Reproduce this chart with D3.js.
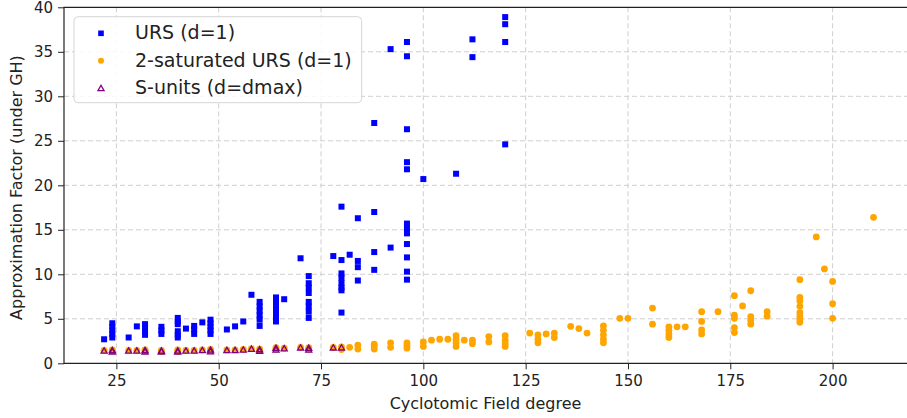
<!DOCTYPE html>
<html>
    <head>
        <script src="https://d3js.org/d3.v7.min.js"></script>
    </head>
    <body style="margin:0; background:#fff;">
        <div id="root"></div>
    </body>
    <style>
svg text {
    font-family: "DejaVu Sans", sans-serif;
    fill: #222;
}
    </style>
    <script>
        // URS (d=1)
        let urs_deg = [22, 24, 24, 24, 24, 24, 28, 30, 32, 32, 32, 32, 36, 36, 36,
            40, 40, 40, 40, 40, 40, 42, 44, 44, 44, 46, 48, 48, 48, 48, 48, 52, 54, 56, 58,
            60, 60, 60, 60, 60, 60, 64, 64, 64, 64, 64, 64, 66, 70,
            72, 72, 72, 72, 72, 72, 72, 72, 78, 80, 80, 80, 80, 80, 80, 80, 80, 82,
            84, 84, 84, 84, 88, 88, 88, 88, 92, 92,
            96, 96, 96, 96, 96, 96, 96, 96, 96, 96, 96, 96, 100, 108, 112, 112, 120, 120, 120, 120];
        let urs_val = [2.7, 4.5, 4.1, 3.7, 3.3, 2.9, 2.9, 4.15, 4.4, 4.0, 3.6, 3.2, 4.1, 3.7, 3.3,
            5.1, 4.7, 4.4, 3.6, 3.2, 2.9, 3.9, 4.2, 3.8, 3.3, 4.6, 4.9, 4.5, 4.1, 3.7, 3.3, 3.8, 4.15, 4.7, 7.7,
            6.9, 6.4, 5.9, 5.4, 4.9, 4.2, 7.4, 6.8, 6.2, 5.6, 5.0, 4.7, 7.2, 11.8,
            9.8, 9.0, 8.5, 7.9, 6.9, 6.4, 5.8, 5.1, 12.05, 17.6, 11.6, 10.1, 9.6, 9.0, 8.5, 8.2, 5.7, 12.2,
            16.3, 11.5, 10.8, 9.3, 27.0, 17.0, 12.5, 10.5, 35.3, 13.0,
            36.1, 34.5, 26.3, 22.6, 21.8, 15.7, 15.2, 14.6, 13.4, 11.9, 10.3, 9.4, 20.7, 21.3, 36.4, 34.4, 38.9, 38.1, 36.1, 24.6];

        // 2-saturated URS (d=1)
        let sat_deg = [22, 24, 24, 28, 30, 32, 32, 36, 36, 40, 40, 42, 44, 46, 48, 48, 52, 54, 56, 58,
            60, 60, 64, 64, 66, 70, 72, 72, 78, 80, 80, 82, 84, 84, 88, 88, 88, 92, 92, 96, 96, 96,
            100, 100, 102, 104, 106, 108, 108, 108, 108, 110, 112, 112, 116, 116, 120, 120, 120, 120,
            126, 128, 128, 128, 130, 132, 132, 136, 138, 140, 144, 144, 144, 144, 144, 148, 150,
            156, 156, 160, 160, 160, 160, 162, 164, 168, 168, 168, 168, 172,
            176, 176, 176, 176, 176, 178, 180, 180, 180, 180, 184, 184,
            192, 192, 192, 192, 192, 192, 192, 192, 196, 198, 200, 200, 200, 210];
        let sat_val = [1.45, 1.5, 1.4, 1.45, 1.45, 1.5, 1.4, 1.45, 1.35, 1.5, 1.35, 1.45, 1.45, 1.5, 1.55, 1.4, 1.5, 1.5, 1.55, 1.65,
            1.6, 1.45, 1.75, 1.6, 1.7, 1.8, 1.75, 1.6, 1.8, 1.85, 1.55, 1.8, 2.05, 1.6, 2.15, 1.85, 1.6, 2.3, 1.8, 2.3, 2.0, 1.7,
            2.4, 1.9, 2.6, 2.7, 2.7, 3.1, 2.7, 2.3, 1.9, 2.6, 2.6, 2.2, 3.0, 2.4, 3.1, 2.6, 2.2, 1.9,
            3.4, 3.2, 2.7, 2.3, 3.3, 3.4, 2.9, 4.15, 3.9, 3.4, 4.2, 3.7, 3.2, 2.7, 2.3, 5.05, 5.05,
            6.2, 4.4, 4.1, 3.7, 3.3, 2.9, 4.1, 4.1, 5.8, 4.7, 3.75, 3.3, 5.8,
            7.6, 5.4, 5.05, 4.0, 3.45, 6.45, 8.15, 5.25, 4.8, 4.4, 5.8, 5.3,
            9.4, 7.4, 7.0, 6.4, 5.7, 5.3, 4.9, 4.6, 14.2, 10.6, 9.2, 6.7, 5.05, 16.4];

        // S-units (d=dmax)
        let sunit_deg = [22, 24, 24, 28, 30, 32, 32, 36, 36, 40, 40, 42, 44, 46, 48, 48, 52, 54, 56, 58,
            60, 60, 64, 64, 66, 70, 72, 72, 78, 80];
        let sunit_val = [1.4, 1.45, 1.3, 1.4, 1.4, 1.45, 1.3, 1.4, 1.3, 1.4, 1.28, 1.4, 1.4, 1.45, 1.5, 1.32, 1.45, 1.45, 1.5, 1.6,
            1.55, 1.38, 1.7, 1.52, 1.65, 1.75, 1.7, 1.52, 1.75, 1.75];

        let x_ticks = [25, 50, 75, 100, 125, 150, 175, 200];
        let y_ticks = [0, 5, 10, 15, 20, 25, 30, 35, 40];

        let legend_items = [
            { label: 'URS (d=1)', kind: 'square' },
            { label: '2-saturated URS (d=1)', kind: 'circle' },
            { label: 'S-units (d=dmax)', kind: 'triangle' }
        ];

        let width = 907;
        let height = 418;
        let plot_left = 64, plot_right = 912, plot_top = 7.3, plot_bottom = 363.3;

        let blue = '#0000ff';
        let orange = '#ffa500';
        let purple = '#800080';

        let scale_x = d3.scaleLinear().domain([12.2, 219.4]).range([plot_left, plot_right]);
        let scale_y = d3.scaleLinear().domain([0, 40]).range([plot_bottom, plot_top]);

        let svg = d3.select('#root').append('svg')
            .attr('width', width)
            .attr('height', height)
            .style('display', 'block');

        // grid
        let grid = svg.append('g')
            .attr('stroke', '#cfcfcf')
            .attr('stroke-width', 1)
            .attr('stroke-dasharray', '5,3');
        grid.selectAll('line.gx')
            .data(x_ticks)
            .join('line')
            .attr('class', 'gx')
            .attr('x1', d => scale_x(d)).attr('x2', d => scale_x(d))
            .attr('y1', plot_top).attr('y2', plot_bottom);
        grid.selectAll('line.gy')
            .data(y_ticks.slice(1, -1))
            .join('line')
            .attr('class', 'gy')
            .attr('x1', plot_left).attr('x2', plot_right)
            .attr('y1', d => scale_y(d)).attr('y2', d => scale_y(d));

        // axes
        let axis_x = svg.append('g')
            .attr('transform', `translate(0, ${plot_bottom})`)
            .call(d3.axisBottom(scale_x).tickValues(x_ticks).tickSize(6).tickPadding(6.5).tickSizeOuter(0));
        let axis_y = svg.append('g')
            .attr('transform', `translate(${plot_left}, 0)`)
            .call(d3.axisLeft(scale_y).tickValues(y_ticks).tickSize(6).tickPadding(5).tickSizeOuter(0));
        [axis_x, axis_y].forEach(a => {
            a.select('.domain').remove();
            a.selectAll('line').attr('stroke', '#222');
            a.selectAll('text').attr('font-size', 15).attr('fill', '#222')
                .attr('font-family', '"DejaVu Sans", sans-serif');
        });

        // spines
        svg.append('path')
            .attr('d', `M${plot_right},${plot_top}H${plot_left}V${plot_bottom}H${plot_right}`)
            .attr('fill', 'none')
            .attr('stroke', '#222')
            .attr('stroke-width', 1.2);

        let marks = svg.append('g');
        let sq = 6;
        marks.append('g')
            .selectAll('rect')
            .data(urs_deg.map((d, i) => [d, urs_val[i]]))
            .join('rect')
            .attr('x', d => scale_x(d[0]) - sq / 2)
            .attr('y', d => scale_y(d[1]) - sq / 2)
            .attr('width', sq)
            .attr('height', sq)
            .attr('fill', blue);
        marks.append('g')
            .selectAll('circle')
            .data(sat_deg.map((d, i) => [d, sat_val[i]]))
            .join('circle')
            .attr('cx', d => scale_x(d[0]))
            .attr('cy', d => scale_y(d[1]))
            .attr('r', 3.4)
            .attr('fill', orange);
        let tri = d3.symbol().type(d3.symbolTriangle).size(16);
        marks.append('g')
            .selectAll('path')
            .data(sunit_deg.map((d, i) => [d, sunit_val[i]]))
            .join('path')
            .attr('d', tri)
            .attr('transform', d => `translate(${scale_x(d[0])}, ${scale_y(d[1]) + 0.5})`)
            .attr('fill', 'none')
            .attr('stroke', purple)
            .attr('stroke-width', 1.3);

        // labels
        svg.append('text')
            .attr('x', (plot_left + 907) / 2)
            .attr('y', 408.5)
            .attr('text-anchor', 'middle')
            .attr('font-size', 16)
            .text('Cyclotomic Field degree');
        svg.append('text')
            .attr('transform', `translate(21.5, 187.5) rotate(-90)`)
            .attr('text-anchor', 'middle')
            .attr('font-size', 16)
            .text('Approximation Factor (under GH)');

        // legend
        let legend = svg.append('g');
        legend.append('rect')
            .attr('x', 74).attr('y', 16.7)
            .attr('width', 287.7).attr('height', 86)
            .attr('rx', 4)
            .attr('fill', 'rgba(255,255,255,0.85)')
            .attr('stroke', '#d6d6d6');
        let rows = legend.selectAll('g.item')
            .data(legend_items)
            .join('g')
            .attr('class', 'item')
            .attr('transform', (d, i) => `translate(101, ${33.3 + i * 27.5})`);
        rows.each(function (d) {
            let g = d3.select(this);
            if (d.kind === 'square') {
                g.append('rect').attr('x', -2.8).attr('y', -2.8).attr('width', 5.6).attr('height', 5.6).attr('fill', blue);
            } else if (d.kind === 'circle') {
                g.append('circle').attr('r', 3).attr('fill', orange);
            } else {
                g.append('path').attr('d', tri).attr('transform', 'translate(0,0.5)')
                    .attr('fill', 'none').attr('stroke', purple).attr('stroke-width', 1.3);
            }
        });
        rows.append('text')
            .attr('x', 34)
            .attr('y', 6)
            .attr('font-size', 19)
            .text(d => d.label);
    </script>
</html>
